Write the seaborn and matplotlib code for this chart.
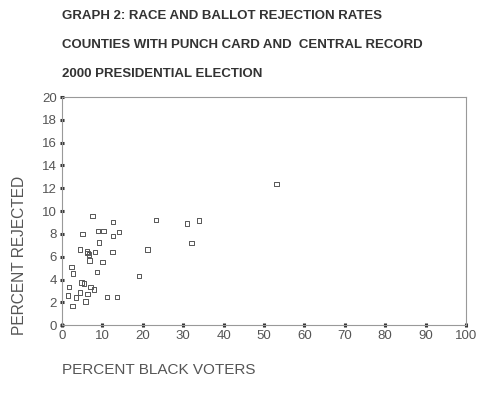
import matplotlib
matplotlib.use("Agg")
import matplotlib.pyplot as plt
import seaborn as sns
import pandas as pd

pct_black = [7.56, 12.67, 5.09, 8.89, 10.27, 14.07, 12.67, 9.14, 4.52, 6.17,
             6.33, 6.67, 8.15, 12.5, 6.81, 10.02, 2.38, 2.79, 8.72, 19.0,
             4.84, 5.51, 7.06, 7.98, 1.80, 4.44, 6.33, 1.48, 3.53, 11.19,
             13.65, 5.83, 2.62, 21.2, 23.2, 30.9, 32.1, 53.1, 33.9]
pct_rejected = [9.59, 9.03, 8.01, 8.24, 8.24, 8.18, 7.83, 7.25, 6.63, 6.46,
                6.34, 6.19, 6.40, 6.40, 5.67, 5.52, 5.11, 4.53, 4.65, 4.32,
                3.74, 3.65, 3.36, 3.15, 3.33, 2.86, 2.75, 2.60, 2.42, 2.48,
                2.48, 2.07, 1.69, 6.63, 9.24, 8.91, 7.19, 12.39, 9.18]
x_ticks = list(range(0, 101, 10))
y_ticks = list(range(0, 21, 2))

title_lines = ["GRAPH 2: RACE AND BALLOT REJECTION RATES",
               "COUNTIES WITH PUNCH CARD AND  CENTRAL RECORD",
               "2000 PRESIDENTIAL ELECTION"]

df = pd.DataFrame({"x": pct_black, "y": pct_rejected})

sns.set_theme(style="white")
plt.rcParams['font.family'] = ['Liberation Sans', 'DejaVu Sans']

fig = plt.figure(figsize=(4.91, 3.93), dpi=100)
ax = fig.add_axes([62/491, 1-325.3/393, (466-62)/491, (325.3-97)/393])
sns.scatterplot(data=df, x="x", y="y", ax=ax, marker="s", s=10,
                facecolor="none", edgecolor="#555555", linewidth=0.7)
ax.set_xlim(0, 100)
ax.set_ylim(0, 20)
ax.set_xticks(x_ticks)
ax.set_yticks(y_ticks)
for sp in ax.spines.values():
    sp.set_color("#999999")
    sp.set_linewidth(0.8)
ax.tick_params(axis="both", which="major", direction="inout", length=3, width=2.2,
               color="#333333", labelsize=9.5, labelcolor="#555555", pad=2,
               bottom=True, left=True)
ax.set_xlabel("")
ax.set_ylabel("")

fig.text(20/491, 1-255/393, "PERCENT REJECTED", rotation=90, ha="center", va="center",
         fontsize=11.2, color="#555555")
fig.text(62/491, 1-370/393, "PERCENT BLACK VOTERS", ha="left", va="center",
         fontsize=11.0, color="#555555")
for i, t in enumerate(title_lines):
    fig.text(62/491, 1-(16+29*i)/393, t, ha="left", va="center",
             fontsize=9.5, fontweight="bold", color="#333333")

fig.savefig("out.png", dpi=100)
